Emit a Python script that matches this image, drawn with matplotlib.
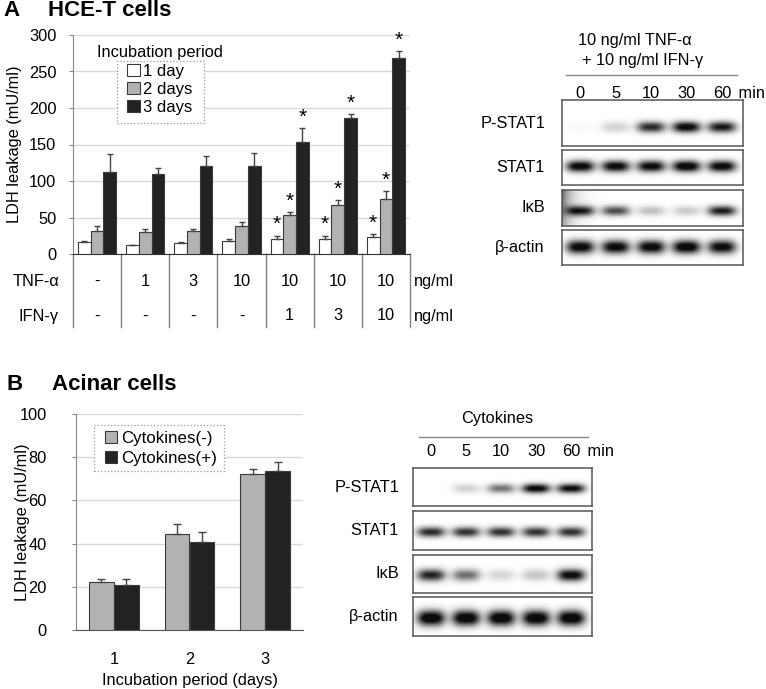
import numpy as np
import matplotlib
matplotlib.use('Agg')
import matplotlib.pyplot as plt
from matplotlib.transforms import blended_transform_factory
from matplotlib.patches import Patch, Rectangle

plt.rcParams['font.family'] = ['Liberation Sans', 'DejaVu Sans']
FS = 11.8
plt.rcParams['font.size'] = FS

# ---------------- Panel A data ----------------
tnf_labels = ['-', '1', '3', '10', '10', '10', '10']
ifn_labels = ['-', '-', '-', '-', '1', '3', '10']
day1 = [16.5, 12, 14.5, 17.3, 21, 21, 23]
day1_err = [0.8, 0.9, 2.3, 3.7, 4, 4, 4]
day2 = [31, 29.5, 31.4, 38.6, 53, 67, 75]
day2_err = [6.7, 4.1, 2.2, 5.4, 4, 7, 11]
day3 = [113, 109, 120, 121, 153, 186, 268]
day3_err = [24, 9, 14.5, 17.6, 19, 6, 10]
sig1 = [False, False, False, False, True, True, True]
sig2 = [False, False, False, False, True, True, True]
sig3 = [False, False, False, False, True, True, True]
legend_a = ['1 day', '2 days', '3 days']

# ---------------- Panel B data ----------------
days_b = [1, 2, 3]
cyt_minus = [22.0, 44.5, 72.3]
cyt_minus_err = [1.5, 4.7, 2.3]
cyt_plus = [21.0, 40.6, 73.5]
cyt_plus_err = [2.4, 4.9, 4.3]
legend_b = ['Cytokines(-)', 'Cytokines(+)']

# ---------------- Blot data (band darkness 0..1) ----------------
lanes = ['0', '5', '10', '30', '60']
blot_rows = ['P-STAT1', 'STAT1', 'I\u03baB', '\u03b2-actin']
blot_a = [
    [0.02, 0.16, 0.75, 0.92, 0.82],
    [0.92, 0.9, 0.9, 0.97, 0.92],
    [0.78, 0.62, 0.22, 0.18, 0.8],
    [0.92, 0.92, 0.92, 0.97, 0.9],
]
blot_b = [
    [0.0, 0.16, 0.48, 0.92, 0.88],
    [0.75, 0.72, 0.72, 0.72, 0.72],
    [0.78, 0.5, 0.14, 0.2, 0.9],
    [1.0, 1.0, 1.0, 1.0, 1.0],
]
smear_a = [0.0, 0.0, 0.55, 0.0]
smear_b = [0.0, 0.0, 0.0, 0.0]

W, H = 766, 689
fig = plt.figure(figsize=(W / 100, H / 100), dpi=100)


def fax(x0, y0, x1, y1):
    """axes from pixel box (top-left origin)"""
    return fig.add_axes([x0 / W, 1 - y1 / H, (x1 - x0) / W, (y1 - y0) / H])


def fpt(px, py):
    return (px / W, 1 - py / H)


def frame_box(ax, x0, y0, x1, y1):
    ax.add_patch(Rectangle(fpt(x0, y1), (x1 - x0) / W, (y1 - y0) / H, transform=fig.transFigure,
                           facecolor='white', edgecolor='#999999', linestyle=':', linewidth=0.9,
                           zorder=5, clip_on=False))


WHITE = '#ffffff'
GRAY = '#b2b2b2'
BLACK = '#222222'
EDGE = '#3a3a3a'
GRID = '#d9d9d9'

# ================= Panel A bar chart =================
axA = fax(73, 35, 410, 254)
x = np.arange(len(tnf_labels))
bw = 0.265
series = [(day1, day1_err, WHITE, sig1), (day2, day2_err, GRAY, sig2), (day3, day3_err, BLACK, sig3)]
handles = []
for i, (vals, errs, col, sig) in enumerate(series):
    xs = x + (i - 1) * bw
    axA.bar(xs, vals, bw, color=col, edgecolor=EDGE, linewidth=0.8, zorder=3,
            yerr=[np.zeros(len(vals)), errs], error_kw=dict(ecolor='#444444', elinewidth=1,
                                                           capsize=2.5, capthick=1, zorder=4))
    handles.append(Patch(facecolor=col, edgecolor=EDGE, linewidth=0.8))
    for xi, v, e, s in zip(xs, vals, errs, sig):
        if s:
            axA.text(xi, v + e + 2, '*', ha='center', va='bottom', fontsize=15, zorder=5)
axA.set_xlim(-0.5, 6.5)
axA.set_ylim(0, 300)
axA.set_yticks(range(0, 301, 50))
axA.yaxis.grid(True, color=GRID, linewidth=1, zorder=0)
axA.set_axisbelow(True)
axA.set_xticks([])
for s in ['top', 'right']:
    axA.spines[s].set_visible(False)
axA.spines['left'].set_color('#888888')
axA.spines['bottom'].set_color('#333333')
axA.tick_params(axis='y', length=3, color='#888888', pad=9, labelsize=FS)
axA.set_ylabel('LDH leakage (mU/ml)', fontsize=FS)
axA.yaxis.set_label_coords((22 - 73) / 337, 0.5)

# table beneath
tr = blended_transform_factory(axA.transData, axA.transAxes)
ppx = 219.0  # axes height in px
for b_ in np.arange(-0.5, 7.0, 1.0):
    axA.plot([b_, b_], [0, -(327 - 254) / ppx], transform=tr, color='#808080', lw=1, clip_on=False)
yt = -(281 - 254) / ppx
yi = -(316 - 254) / ppx
for xi, t, f in zip(x, tnf_labels, ifn_labels):
    axA.text(xi, yt, t, transform=tr, ha='center', va='center', fontsize=FS)
    axA.text(xi, yi, f, transform=tr, ha='center', va='center', fontsize=FS)
fig.text(*fpt(59, 281), 'TNF-\u03b1', ha='right', va='center', fontsize=FS)
fig.text(*fpt(59, 316), 'IFN-\u03b3', ha='right', va='center', fontsize=FS)
fig.text(*fpt(414, 281), 'ng/ml', ha='left', va='center', fontsize=FS)
fig.text(*fpt(414, 316), 'ng/ml', ha='left', va='center', fontsize=FS)

# legend A
fig.text(*fpt(160, 52), 'Incubation period', ha='center', va='center', fontsize=FS, zorder=6)
frame_box(axA, 117, 61, 204, 123)
legA = axA.legend(handles, legend_a, loc='upper left', bbox_to_anchor=fpt(127, 64),
                  bbox_transform=fig.transFigure, frameon=False, fontsize=12,
                  handlelength=0.75, handleheight=0.75, handletextpad=0.2, labelspacing=0.17,
                  borderpad=0, borderaxespad=0)
legA.set_zorder(7)

# titles
fig.text(*fpt(3, 10), 'A', ha='left', va='center', fontsize=16, fontweight='bold')
fig.text(*fpt(48, 10), 'HCE-T cells', ha='left', va='center', fontsize=16, fontweight='bold')
fig.text(*fpt(7, 384), 'B', ha='left', va='center', fontsize=16, fontweight='bold')
fig.text(*fpt(52, 384), 'Acinar cells', ha='left', va='center', fontsize=16, fontweight='bold')

# ================= Panel B bar chart =================
axB = fax(76, 414, 303, 630)
bwb = 0.33
xb = np.array(days_b)
hb = []
for i, (vals, errs, col) in enumerate([(cyt_minus, cyt_minus_err, GRAY), (cyt_plus, cyt_plus_err, BLACK)]):
    xs = xb + (i - 0.5) * bwb
    axB.bar(xs, vals, bwb, color=col, edgecolor=EDGE, linewidth=0.8, zorder=3,
            yerr=[np.zeros(len(vals)), errs], error_kw=dict(ecolor='#444444', elinewidth=1,
                                                           capsize=3, capthick=1, zorder=4))
    hb.append(Patch(facecolor=col, edgecolor=EDGE, linewidth=0.8))
axB.set_xlim(0.5, 3.5)
axB.set_ylim(0, 100)
axB.set_yticks(range(0, 101, 20))
axB.set_xticks(days_b)
axB.yaxis.grid(True, color=GRID, linewidth=1, zorder=0)
axB.set_axisbelow(True)
for s in ['top', 'right']:
    axB.spines[s].set_visible(False)
axB.spines['left'].set_color('#888888')
axB.spines['bottom'].set_color('#555555')
axB.tick_params(axis='y', length=3, color='#888888', pad=18, labelsize=FS)
axB.tick_params(axis='x', length=0, pad=16, labelsize=FS)
axB.set_ylabel('LDH leakage (mU/ml)', fontsize=FS)
axB.yaxis.set_label_coords((30 - 76) / 227, 0.5)
axB.set_xlabel('Incubation period (days)', fontsize=FS, labelpad=4)
frame_box(axB, 94, 425, 224, 471)
legB = axB.legend(hb, legend_b, loc='upper left', bbox_to_anchor=fpt(105, 431),
                  bbox_transform=fig.transFigure, frameon=False, fontsize=12.2,
                  handlelength=0.72, handleheight=0.72, handletextpad=0.25, labelspacing=0.3,
                  borderpad=0, borderaxespad=0)
legB.set_zorder(7)


# ================= Blots =================
def draw_blot(box_x0, box_x1, rows_y, data, smear, band_y, band_h, label_x):
    lane_pos = np.linspace(0.1, 0.885, len(lanes))
    for r, ((y0, y1), amps) in enumerate(zip(rows_y, data)):
        ax = fax(box_x0, y0, box_x1, y1)
        nx, ny = 240, 60
        xx, yy = np.meshgrid(np.linspace(0, 1, nx), np.linspace(0, 1, ny))
        img = np.zeros_like(xx)
        for lp, a in zip(lane_pos, amps):
            img += a * np.exp(-np.abs((xx - lp) / 0.078) ** 3) * np.exp(-((yy - band_y[r]) / band_h[r]) ** 2)
        if smear[r] > 0:
            img += smear[r] * np.exp(-xx / 0.05) * (0.6 + 0.4 * yy)
        img = np.clip(img * 1.2, 0, 1)
        ax.imshow(img, cmap='gray_r', vmin=0, vmax=1.05, extent=[0, 1, 0, 1], aspect='auto',
                  origin='lower', interpolation='bilinear')
        ax.set_xticks([])
        ax.set_yticks([])
        for sp in ax.spines.values():
            sp.set_color('#555555')
            sp.set_linewidth(1.1)
        fig.text(*fpt(label_x, (y0 + y1) / 2), blot_rows[r], ha='right', va='center', fontsize=FS)


# Blot A
draw_blot(562, 743, [(100, 146), (150, 185), (190, 226), (230, 265)], blot_a, smear_a,
          band_y=[0.41, 0.52, 0.42, 0.5], band_h=[0.12, 0.16, 0.14, 0.19], label_x=545)
fig.text(*fpt(635, 40), '10 ng/ml TNF-\u03b1', ha='center', va='center', fontsize=FS)
fig.text(*fpt(643, 61), '+ 10 ng/ml IFN-\u03b3', ha='center', va='center', fontsize=FS)
fig.add_artist(plt.Line2D([566 / W, 737 / W], [1 - 75 / H, 1 - 75 / H], color='#888888', lw=1))
lane_px_a = np.linspace(562 + 0.1 * 181, 562 + 0.885 * 181, len(lanes))
for lp, lab in zip(lane_px_a, lanes):
    fig.text(*fpt(lp, 93), lab, ha='center', va='center', fontsize=FS)
fig.text(*fpt(lane_px_a[-1] + 12, 93), ' min', ha='left', va='center', fontsize=FS)

# Blot B
draw_blot(413, 592, [(468, 506), (511, 550), (555, 593), (597, 636)], blot_b, smear_b,
          band_y=[0.45, 0.46, 0.47, 0.46], band_h=[0.12, 0.13, 0.16, 0.2], label_x=399)
fig.text(*fpt(497, 419), 'Cytokines', ha='center', va='center', fontsize=FS)
fig.add_artist(plt.Line2D([419 / W, 588 / W], [1 - 437 / H, 1 - 437 / H], color='#888888', lw=1))
lane_px_b = np.linspace(413 + 0.1 * 179, 413 + 0.885 * 179, len(lanes))
for lp, lab in zip(lane_px_b, lanes):
    fig.text(*fpt(lp, 451), lab, ha='center', va='center', fontsize=FS)
fig.text(*fpt(lane_px_b[-1] + 12, 451), ' min', ha='left', va='center', fontsize=FS)

fig.savefig('out.png', dpi=100)
